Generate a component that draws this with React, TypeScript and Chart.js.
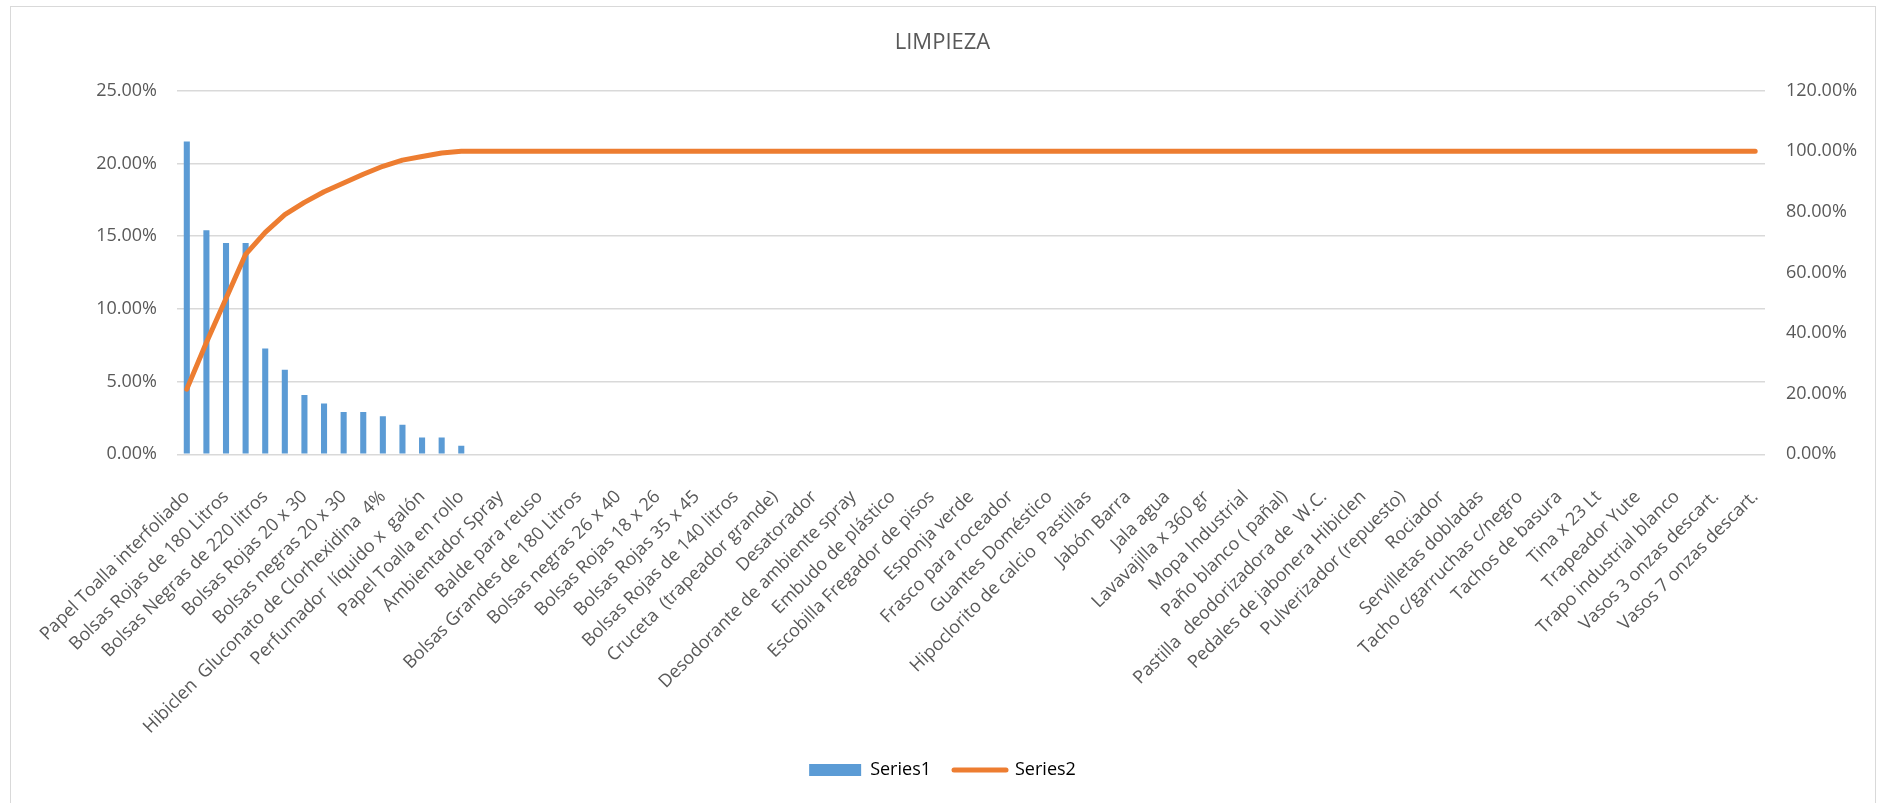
import React, { useEffect, useRef } from 'react';
import { Chart, registerables } from 'chart.js';

Chart.register(...registerables);

const TITLE = 'LIMPIEZA';

// Item names printed under the axis; every item in between carries an empty label
const itemLabels = [
  'Papel Toalla interfoliado',
  'Bolsas Rojas de 180 Litros',
  'Bolsas Negras de 220 litros',
  'Bolsas Rojas 20 x 30',
  'Bolsas negras 20 x 30',
  'Hibiclen  Gluconato de Clorhexidina  4%',
  'Perfumador  líquido x  galón',
  'Papel Toalla en rollo',
  'Ambientador Spray',
  'Balde para reuso',
  'Bolsas Grandes de 180 Litros',
  'Bolsas negras 26 x 40',
  'Bolsas Rojas 18 x 26',
  'Bolsas Rojas 35 x 45',
  'Bolsas Rojas de 140 litros',
  'Cruceta  (trapeador grande)',
  'Desatorador',
  'Desodorante de ambiente spray',
  'Embudo de plástico',
  'Escobilla Fregador de pisos',
  'Esponja verde',
  'Frasco para roceador',
  'Guantes Doméstico',
  'Hipoclorito de calcio  Pastillas',
  'Jabón Barra',
  'Jala agua',
  'Lavavajilla x 360 gr',
  'Mopa Industrial',
  'Paño blanco ( pañal)',
  'Pastilla  deodorizadora de  W.C.',
  'Pedales de jabonera Hibiclen',
  'Pulverizador (repuesto)',
  'Rociador',
  'Servilletas dobladas',
  'Tacho c/garruchas c/negro',
  'Tachos de basura',
  'Tina x 23 Lt',
  'Trapeador Yute',
  'Trapo industrial blanco',
  'Vasos 3 onzas descart.',
  'Vasos 7 onzas descart.',
];

// Series1: share of each item (%)
const series1 = [
  21.51, 15.41, 14.53, 14.53, 7.27, 5.81, 4.07, 3.49, 2.91, 2.91, 2.62, 2.03, 1.16, 1.16, 0.58,
  0, 0, 0, 0, 0, 0, 0, 0, 0, 0, 0,
  0, 0, 0, 0, 0, 0, 0, 0, 0, 0, 0,
  0, 0, 0, 0, 0, 0, 0, 0, 0, 0, 0,
  0, 0, 0, 0, 0, 0, 0, 0, 0, 0, 0,
  0, 0, 0, 0, 0, 0, 0, 0, 0, 0, 0,
  0, 0, 0, 0, 0, 0, 0, 0, 0, 0, 0,
];

// Series2: cumulative share (%)
const series2 = [
  21.51, 36.92, 51.45, 65.99, 73.26, 79.07, 83.14, 86.63, 89.53, 92.44, 95.06, 97.09, 98.26, 99.42, 100,
  100, 100, 100, 100, 100, 100, 100, 100, 100, 100, 100,
  100, 100, 100, 100, 100, 100, 100, 100, 100, 100, 100,
  100, 100, 100, 100, 100, 100, 100, 100, 100, 100, 100,
  100, 100, 100, 100, 100, 100, 100, 100, 100, 100, 100,
  100, 100, 100, 100, 100, 100, 100, 100, 100, 100, 100,
  100, 100, 100, 100, 100, 100, 100, 100, 100, 100, 100,
];

const leftAxisMax = 25;
const leftAxisStep = 5;
const rightAxisMax = 120;
const rightAxisStep = 20;

const BLUE = '#5B9BD5';
const ORANGE = '#ED7D31';
const TEXT = '#595959';
const GRID = '#d9d9d9';
const FONT = "'Open Sans', 'Noto Sans', sans-serif";

const CANVAS_W = 1865;
const CANVAS_H = 797;

function buildCategories(): string[] {
  const out: string[] = [];
  itemLabels.forEach((name, i) => {
    if (i > 0) out.push('');
    out.push(name);
  });
  return out;
}

const pct = (v: number | string) => Number(v).toFixed(2) + '%';

export default function App() {
  const canvasRef = useRef<HTMLCanvasElement | null>(null);

  useEffect(() => {
    let chart: Chart | null = null;
    let cancelled = false;

    const build = () => {
      if (cancelled || !canvasRef.current) return;
      Chart.defaults.font.family = FONT;
      chart = new Chart(canvasRef.current, {
        type: 'bar',
        data: {
          labels: buildCategories(),
          datasets: [
            {
              type: 'line',
              label: 'Series2',
              data: series2,
              yAxisID: 'y1',
              borderColor: ORANGE,
              backgroundColor: ORANGE,
              borderWidth: 5,
              borderCapStyle: 'round',
              borderJoinStyle: 'round',
              pointRadius: 0,
              tension: 0,
              order: 1,
            } as any,
            {
              type: 'bar',
              label: 'Series1',
              data: series1,
              yAxisID: 'y',
              backgroundColor: BLUE,
              borderWidth: 0,
              categoryPercentage: 1,
              barPercentage: 0.31,
              order: 2,
            },
          ],
        },
        options: {
          responsive: false,
          animation: false,
          layout: { padding: { top: 0, left: 0, right: 0, bottom: 14 } },
          plugins: {
            title: {
              display: true,
              text: TITLE,
              color: TEXT,
              font: { size: 22, weight: 'normal', family: FONT },
              padding: { top: 23.8, bottom: 34.5 },
            },
            legend: {
              position: 'bottom',
              labels: {
                usePointStyle: true,
                pointStyleWidth: 52,
                boxHeight: 12,
                padding: 23,
                color: TEXT,
                font: { size: 18, family: FONT },
                generateLabels: () => [
                  {
                    text: 'Series1',
                    fillStyle: BLUE,
                    strokeStyle: BLUE,
                    lineWidth: 0,
                    pointStyle: 'rect',
                    hidden: false,
                    datasetIndex: 1,
                  },
                  {
                    text: 'Series2',
                    fillStyle: ORANGE,
                    strokeStyle: ORANGE,
                    lineWidth: 5,
                    lineCap: 'round',
                    pointStyle: 'line',
                    hidden: false,
                    datasetIndex: 0,
                  },
                ] as any,
              },
            },
            tooltip: { enabled: false },
          },
          scales: {
            x: {
              offset: true,
              grid: { display: false },
              border: { display: false },
              ticks: {
                autoSkip: false,
                minRotation: 45,
                maxRotation: 45,
                padding: 24,
                color: TEXT,
                font: { size: 18, family: FONT },
              },
              afterFit: (s: any) => {
                s.height = 283.7;
              },
            },
            y: {
              position: 'left',
              min: 0,
              max: leftAxisMax,
              ticks: {
                stepSize: leftAxisStep,
                padding: 20,
                color: TEXT,
                font: { size: 18, family: FONT },
                callback: (v: any) => pct(v),
              },
              grid: { color: GRID, lineWidth: 1.5, drawTicks: false },
              border: { display: false },
              afterFit: (s: any) => {
                s.width = 167;
              },
            },
            y1: {
              position: 'right',
              min: 0,
              max: rightAxisMax,
              ticks: {
                stepSize: rightAxisStep,
                padding: 21,
                color: TEXT,
                font: { size: 18, family: FONT },
                callback: (v: any) => pct(v),
              },
              grid: { display: false, drawTicks: false },
              border: { display: false },
              afterFit: (s: any) => {
                s.width = 110;
              },
            },
          },
        } as any,
      });
    };

    const fonts = (document as any).fonts;
    if (fonts && fonts.load) {
      Promise.all([fonts.load(`18px ${FONT}`), fonts.load(`22px ${FONT}`)])
        .catch(() => undefined)
        .then(build);
    } else {
      build();
    }

    return () => {
      cancelled = true;
      if (chart) chart.destroy();
    };
  }, []);

  return (
    <div
      style={{
        position: 'fixed',
        left: 0,
        top: 0,
        width: 1877,
        height: 803,
        background: '#ffffff',
        overflow: 'hidden',
      }}
    >
      <div
        style={{
          position: 'absolute',
          left: 10,
          top: 6,
          width: 1866,
          height: 840,
          boxSizing: 'border-box',
          border: `1.5px solid ${GRID}`,
        }}
      />
      <canvas
        ref={canvasRef}
        width={CANVAS_W}
        height={CANVAS_H}
        style={{ position: 'absolute', left: 10, top: 6, width: CANVAS_W, height: CANVAS_H }}
      />
    </div>
  );
}
